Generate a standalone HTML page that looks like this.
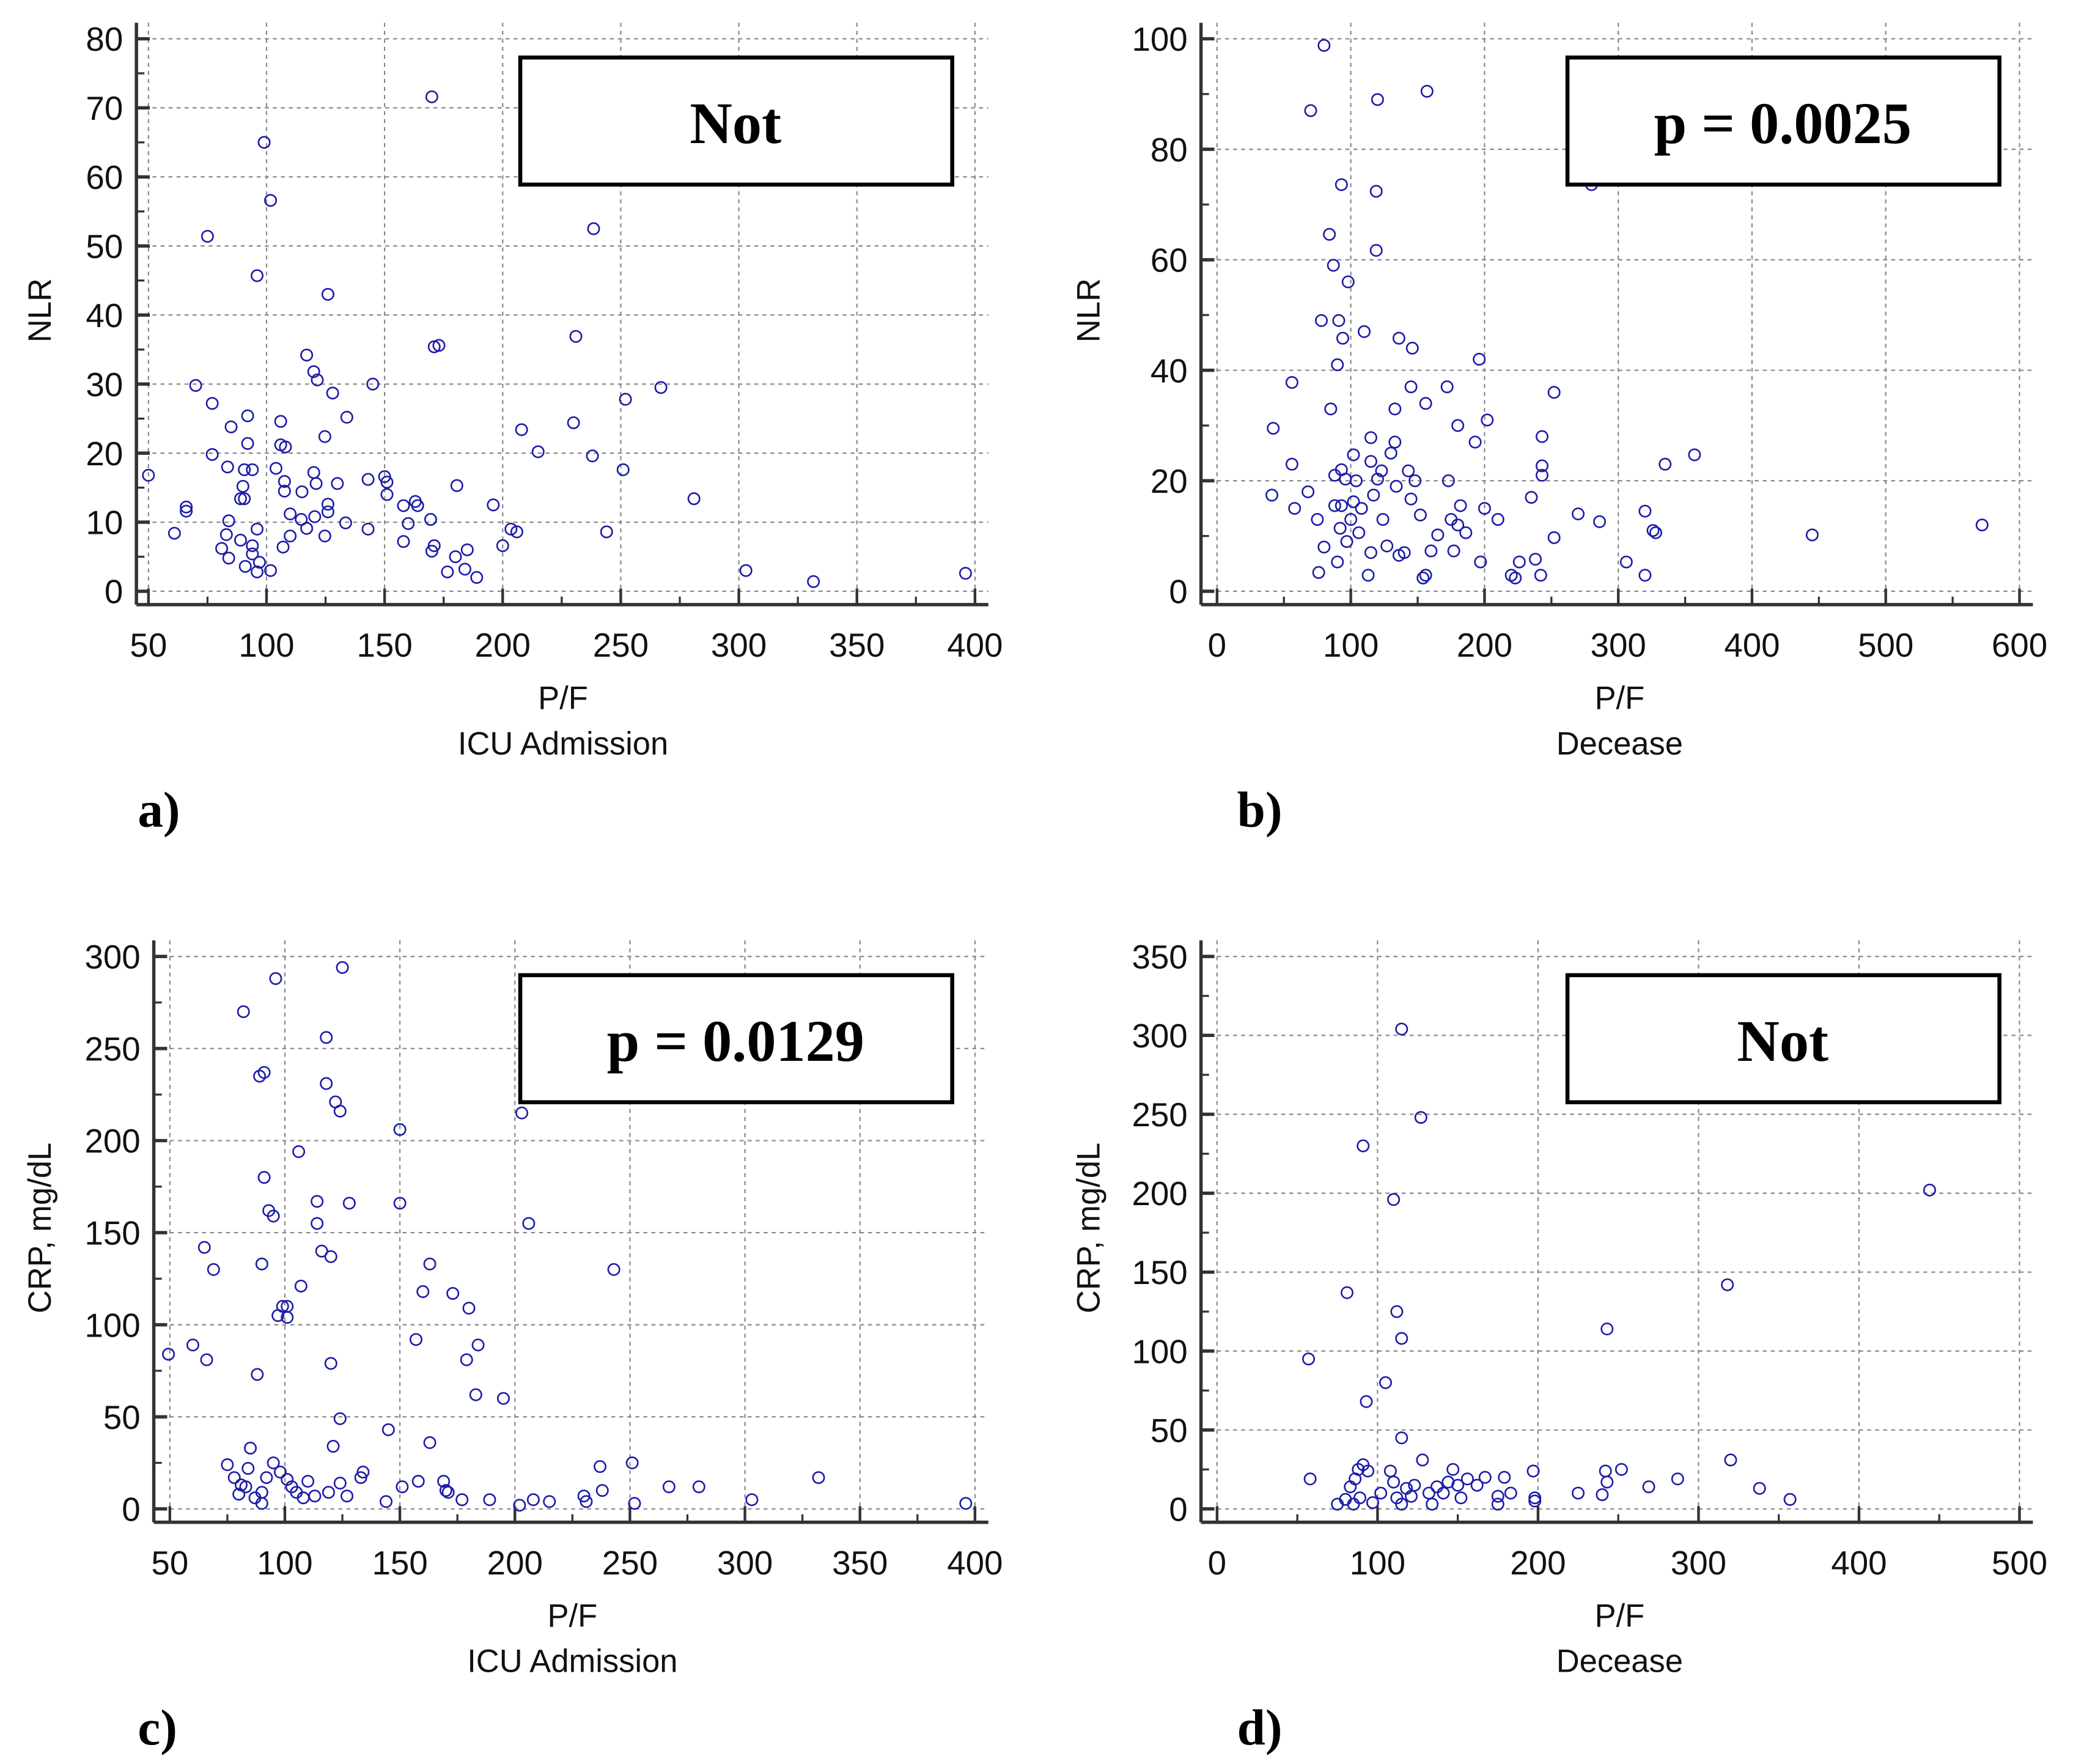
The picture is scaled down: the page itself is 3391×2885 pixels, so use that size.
<!DOCTYPE html>
<html><head><meta charset="utf-8"><style>
html,body{margin:0;padding:0;background:#fff}
svg{display:block}
text{font-family:"Liberation Sans",Arial,sans-serif}
.serif{font-family:"Liberation Serif","Times New Roman",serif;font-weight:bold}
</style></head><body>
<svg id="fig" width="3391" height="2885" viewBox="0 0 1550 1318.7" preserveAspectRatio="none" xmlns="http://www.w3.org/2000/svg"></svg>
<script>
// Panel a: P/F vs NLR, ICU Admission
const aX=[50,61,66,66,70,75,77,77,83.5,85,92,92,90.6,94,90,89,90.6,84,83,81,84,89,91,94,94,96,97,96,96,99,101.7,101.7,104,106,106,108,107.6,107.6,107,110,110,115,114.7,117,117,120,121.5,120,121,120.4,124.7,126,126,126,124.7,128,130,134,133.5,143,143,145,150,151,151,158,158,160,163,164,169.5,170,171,173,170,171,176.6,180.6,180,184,185,189,196,200,203.5,206,208,215,231,230,238,238.5,244,251,252,267,281,303,331.6,396];
const aY=[16.8,8.4,12.2,11.6,29.8,51.4,27.2,19.8,18,23.8,25.4,21.4,17.6,17.6,15.2,13.4,13.4,10.2,8.2,6.2,4.8,7.4,3.6,6.6,5.4,2.8,4.2,9,45.7,65,56.6,3,17.8,24.6,21.2,20.9,15.9,14.5,6.4,11.2,8,14.4,10.4,9.1,34.2,31.8,30.6,17.2,15.6,10.8,22.4,43,12.6,11.5,8,28.7,15.6,25.2,9.9,16.2,9,30,16.6,15.8,14,12.4,7.2,9.8,13,12.4,10.4,71.6,35.4,35.6,5.8,6.6,2.8,15.3,5,3.2,6,2,12.5,6.6,9,8.6,23.4,20.2,36.9,24.4,19.6,52.5,8.6,17.6,27.8,29.5,13.4,3,1.4,2.6];
// Panel b: P/F vs NLR, Decease
const bX=[42,41,56,56,58,70,80,68,75,78,80,76,84,87,85,91,93,90,94,98,88,93,96,88,93,92,97,90,102,104,102,108,100,106,110,115,115,117,115,113,120,119,119,123,120,124,127,130,133,133,134,136,136,140,143,146,145,145,148,152,157,156,156,154,160,165,172,173,175,177,180,182,180,186,193,196,200,197,202,210,220,223,226,235,238,242,243,243,243,252,252,270,286,280,306,320,320,326,328,335,357,445,572];
const bY=[29.5,17.4,37.8,23,15,87,98.8,18,13,49,8,3.4,64.6,59,33,49,73.6,41,45.8,56,21,22,20.3,15.5,15.5,11.4,9,5.3,24.7,20,16.2,15,13,10.6,47,23.5,27.8,17.4,7,2.9,89,72.4,61.7,21.8,20.3,13,8.2,25,27,33,19,45.8,6.5,7,21.8,44,37,16.7,20,13.8,90.5,34,2.9,2.4,7.3,10.2,37,20,13,7.3,30,15.5,12,10.6,27,42,15,5.3,31,13,2.9,2.4,5.3,17,5.8,2.9,28,22.7,21,9.7,36,14,12.6,73.6,5.3,14.5,2.9,11,10.6,23,24.7,10.2,12];
// Panel c: P/F vs CRP, ICU Admission
const cX=[49.4,60,66,65,69,82,96,89,91,91,93,95,90,88,97,99,101,101,106,107,114,114,116,120,118,118,122,124,125,128,120,124,121,145,150,150,157,160,163,163,173,180,179,184,183,195,203,206,243,75,78,81,80,83,84,85,87,90,90,92,95,98,101,103,105,108,110,113,119,124,127,133,134,144,151,158,169,170,171,177,189,202,208,215,230,231,237,238,251,252,267,280,303,332,396];
const cY=[84,89,81,142,130,270,288,235,237,180,162,159,133,73,105,110,110,104,194,121,167,155,140,137,256,231,221,216,294,166,79,49,34,43,206,166,92,118,133,36,117,109,81,89,62,60,215,155,130,24,17,13,8,12,22,33,6,9,3,17,25,20,16,12,9,6,15,7,9,14,7,17,20,4,12,15,15,10,9,5,5,2,5,4,7,4,23,10,25,3,12,12,5,17,3];
// Panel d: P/F vs CRP, Decease
const dX=[57,58,81,91,93,105,110,112,115,115,115,127,444,318,243,320,338,357,75,80,83,86,88,91,94,85,89,97,102,108,110,112,115,118,121,123,128,132,134,137,141,144,147,150,152,156,162,167,175,175,179,183,197,198,198,225,240,242,243,252,269,287];
const dY=[95,19,137,230,68,80,196,125,108,45,304,248,202,142,114,31,13,6,3,6,14,19,25,28,24,3,7,4,10,24,17,7,3,13,8,15,31,10,3,14,10,17,25,15,7,19,15,20,8,3,20,10,24,5,7,10,9,24,17,25,14,19];
// Tick labels
const aXTicks=[50,100,150,200,250,300,350,400];
const aYTicks=[0,10,20,30,40,50,60,70,80];
const bXTicks=[0,100,200,300,400,500,600];
const bYTicks=[0,20,40,60,80,100];
const cXTicks=[50,100,150,200,250,300,350,400];
const cYTicks=[0,50,100,150,200,250,300];
const dXTicks=[0,100,200,300,400,500];
const dYTicks=[0,50,100,150,200,250,300,350];

const NS="http://www.w3.org/2000/svg";
const svg=document.getElementById('fig');
function mk(tag,attrs,parent){const e=document.createElementNS(NS,tag);for(const k in attrs)e.setAttribute(k,attrs[k]);(parent||svg).appendChild(e);return e;}

function panel(p){
  const g=mk('g',{});
  
  
  const xs=v=>p.xp0+(v-p.xv0)*(p.xp1-p.xp0)/(p.xv1-p.xv0);
  const ys=v=>p.yp0+(v-p.yv0)*(p.yp1-p.yp0)/(p.yv1-p.yv0);
  const xr=xs(p.xt[p.xt.length-1])+10, yt=ys(p.yt[p.yt.length-1])-12;
  // grid
  p.xt.forEach(v=>{const l=mk('line',{x1:xs(v),x2:xs(v),y1:yt,y2:p.ax_y,stroke:'#888','stroke-width':1,'stroke-dasharray':'3,3'},g);
    });
  p.yt.forEach(v=>{const l=mk('line',{x1:p.ax_x,x2:xr,y1:ys(v),y2:ys(v),stroke:'#888','stroke-width':1,'stroke-dasharray':'3,3'},g);
    });
  // axes
  const ya=mk('line',{x1:p.ax_x,x2:p.ax_x,y1:yt,y2:p.ax_y,stroke:'#333','stroke-width':2.5},g);
  
  const xa=mk('line',{x1:p.ax_x,x2:xr,y1:p.ax_y,y2:p.ax_y,stroke:'#333','stroke-width':2.5},g);
  
  // ticks
  p.xt.forEach((v,i)=>{
    mk('line',{x1:xs(v),x2:xs(v),y1:p.ax_y,y2:p.ax_y-12,stroke:'#333','stroke-width':2},g);
    if(i<p.xt.length-1){const m=xs(v+(p.xt[1]-p.xt[0])/2);mk('line',{x1:m,x2:m,y1:p.ax_y,y2:p.ax_y-6,stroke:'#333','stroke-width':1.5},g);}
    const t=mk('text',{x:xs(v),y:p.ax_y+39,'font-size':25,'text-anchor':'middle',fill:'#111'},g);
    t.textContent=v;});
  p.yt.forEach((v,i)=>{
    mk('line',{x1:p.ax_x,x2:p.ax_x+10,y1:ys(v),y2:ys(v),stroke:'#333','stroke-width':2.5},g);
    if(i<p.yt.length-1){const m=ys(v+(p.yt[1]-p.yt[0])/2);mk('line',{x1:p.ax_x,x2:p.ax_x+6,y1:m,y2:m,stroke:'#333','stroke-width':1.5},g);}
    const t=mk('text',{x:p.ax_x-10,y:ys(v)+9,'font-size':25,'text-anchor':'end',fill:'#111'},g);
    t.textContent=v;});
  // points
  p.X.forEach((v,i)=>{const c=mk('circle',{cx:xs(v),cy:ys(p.Y[i]),r:4.2,fill:'none',stroke:'#1c1ca8','stroke-width':1.2},g);
    });
  // titles
  const yl=mk('text',{x:0,y:0,'font-size':24,'text-anchor':'middle',fill:'#111',transform:`translate(${p.ylx},${p.yly}) rotate(-90)`},g);
  yl.textContent=p.ylab;
  const t1=mk('text',{x:p.tx,y:p.ax_y+78,'font-size':24,'text-anchor':'middle',fill:'#111'},g);
  t1.textContent='P/F';
  const t2=mk('text',{x:p.tx,y:p.ax_y+112,'font-size':24,'text-anchor':'middle',fill:'#111'},g);
  t2.textContent=p.sub;
  // annotation box
  const r=mk('rect',{x:p.bx,y:p.by,width:323,height:95,fill:'#fff',stroke:'#000','stroke-width':3},g);
  
  const bt=mk('text',{x:p.bx+161,y:p.by+64,'font-size':44,'text-anchor':'middle',fill:'#000',class:'serif'},g);
  bt.textContent=p.box;
  const pl=mk('text',{x:p.lx,y:p.ax_y+166,'font-size':38,fill:'#000',class:'serif'},g);
  pl.textContent=p.label;
}
panel({name:'panel-a',X:aX,Y:aY,xt:aXTicks,yt:aYTicks,ax_x:102,ax_y:452,xv0:50,xp0:111,xv1:400,xp1:729,yv0:0,yp0:442,yv1:80,yp1:29,ylab:'NLR',ylx:38,yly:232,tx:421,sub:'ICU Admission',bx:389,by:43,box:'Not',label:'a)',lx:103});
panel({name:'panel-b',X:bX,Y:bY,xt:bXTicks,yt:bYTicks,ax_x:898,ax_y:452,xv0:0,xp0:910,xv1:600,xp1:1510,yv0:0,yp0:442,yv1:100,yp1:29,ylab:'NLR',ylx:822,yly:232,tx:1211,sub:'Decease',bx:1172,by:43,box:'p = 0.0025',label:'b)',lx:925});
panel({name:'panel-c',X:cX,Y:cY,xt:cXTicks,yt:cYTicks,ax_x:115,ax_y:1138,xv0:50,xp0:127,xv1:400,xp1:729,yv0:0,yp0:1128,yv1:300,yp1:715,ylab:'CRP, mg/dL',ylx:38,yly:918,tx:428,sub:'ICU Admission',bx:389,by:729,box:'p = 0.0129',label:'c)',lx:103});
panel({name:'panel-d',X:dX,Y:dY,xt:dXTicks,yt:dYTicks,ax_x:898,ax_y:1138,xv0:0,xp0:910,xv1:500,xp1:1510,yv0:0,yp0:1128,yv1:350,yp1:715,ylab:'CRP, mg/dL',ylx:822,yly:918,tx:1211,sub:'Decease',bx:1172,by:729,box:'Not',label:'d)',lx:925});
</script>
</body></html>
